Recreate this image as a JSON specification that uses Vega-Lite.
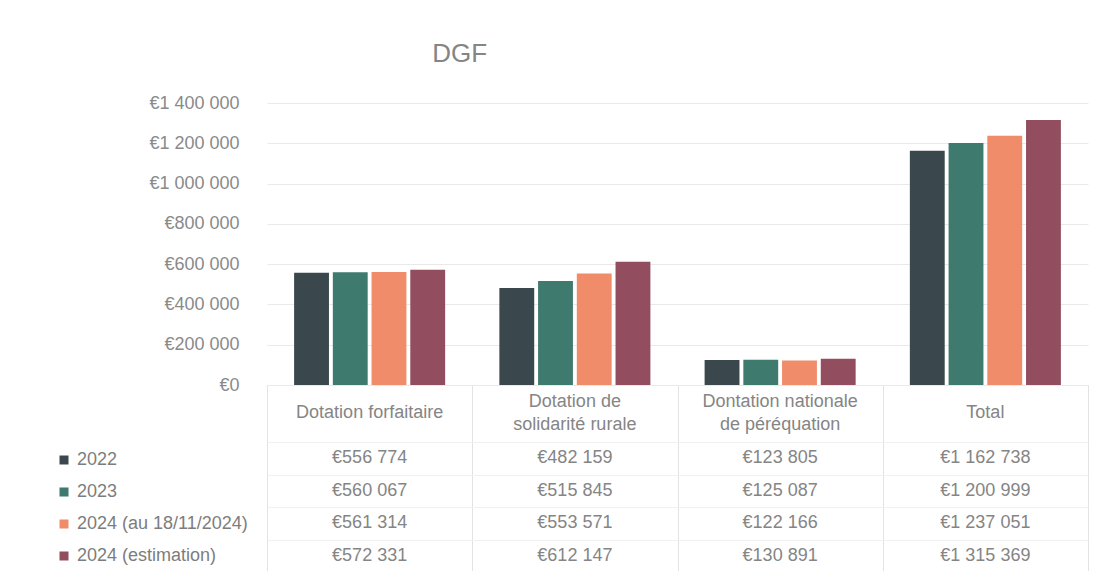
{
  "$schema": "https://vega.github.io/schema/vega-lite/v6.json",
  "padding": {"left": 55, "top": 41, "right": 0, "bottom": 0},
  "background": "white",
  "title": {
    "text": "DGF",
    "fontSize": 26,
    "font": "Liberation Sans",
    "fontWeight": "normal",
    "color": "#858585",
    "anchor": "middle",
    "dx": -112,
    "offset": 27
  },
  "datasets": {
    "dgf": [
      {"categorie": "Dotation forfaitaire", "serie": "2022", "montant": 556774},
      {"categorie": "Dotation forfaitaire", "serie": "2023", "montant": 560067},
      {"categorie": "Dotation forfaitaire", "serie": "2024 (au 18/11/2024)", "montant": 561314},
      {"categorie": "Dotation forfaitaire", "serie": "2024 (estimation)", "montant": 572331},
      {"categorie": "Dotation de solidarité rurale", "serie": "2022", "montant": 482159},
      {"categorie": "Dotation de solidarité rurale", "serie": "2023", "montant": 515845},
      {"categorie": "Dotation de solidarité rurale", "serie": "2024 (au 18/11/2024)", "montant": 553571},
      {"categorie": "Dotation de solidarité rurale", "serie": "2024 (estimation)", "montant": 612147},
      {"categorie": "Dontation nationale de péréquation", "serie": "2022", "montant": 123805},
      {"categorie": "Dontation nationale de péréquation", "serie": "2023", "montant": 125087},
      {"categorie": "Dontation nationale de péréquation", "serie": "2024 (au 18/11/2024)", "montant": 122166},
      {"categorie": "Dontation nationale de péréquation", "serie": "2024 (estimation)", "montant": 130891},
      {"categorie": "Total", "serie": "2022", "montant": 1162738},
      {"categorie": "Total", "serie": "2023", "montant": 1200999},
      {"categorie": "Total", "serie": "2024 (au 18/11/2024)", "montant": 1237051},
      {"categorie": "Total", "serie": "2024 (estimation)", "montant": 1315369}
    ],
    "entetes": [
      {"categorie": "Dotation forfaitaire", "entete": "Dotation forfaitaire"},
      {"categorie": "Dotation de solidarité rurale", "entete": "Dotation de|solidarité rurale"},
      {"categorie": "Dontation nationale de péréquation", "entete": "Dontation nationale|de péréquation"},
      {"categorie": "Total", "entete": "Total"}
    ]
  },
  "config": {
    "locale": {
      "number": {"decimal": ",", "thousands": " ", "grouping": [3], "currency": ["€", ""]}
    },
    "view": {"stroke": null},
    "font": "Liberation Sans",
    "text": {"font": "Liberation Sans"}
  },
  "vconcat": [
    {
      "width": 821,
      "height": 282,
      "layer": [
        {
          "data": {"name": "dgf"},
          "mark": {"type": "bar"},
          "encoding": {
            "x": {
              "field": "categorie",
              "type": "nominal",
              "sort": ["Dotation forfaitaire", "Dotation de solidarité rurale", "Dontation nationale de péréquation", "Total"],
              "scale": {"paddingInner": 0, "paddingOuter": 0},
              "axis": {
                "title": null,
                "labels": false,
                "ticks": true,
                "tickBand": "extent",
                "tickSize": 57,
                "tickColor": "#e3e3e3",
                "domain": false,
                "grid": false
              }
            },
            "xOffset": {
              "field": "serie",
              "type": "nominal",
              "sort": ["2022", "2023", "2024 (au 18/11/2024)", "2024 (estimation)"],
              "scale": {"paddingInner": 0.1, "paddingOuter": 0.7}
            },
            "y": {
              "field": "montant",
              "type": "quantitative",
              "scale": {"domain": [0, 1400000], "nice": false},
              "axis": {
                "title": null,
                "format": "$,.0f",
                "values": [0, 200000, 400000, 600000, 800000, 1000000, 1200000, 1400000],
                "labelPadding": 28,
                "labelFontSize": 18,
                "labelFont": "Liberation Sans",
                "labelColor": "#8a8a8a",
                "ticks": false,
                "domain": false,
                "grid": true,
                "gridColor": "#e9e9e9"
              }
            },
            "color": {
              "field": "serie",
              "type": "nominal",
              "sort": ["2022", "2023", "2024 (au 18/11/2024)", "2024 (estimation)"],
              "scale": {
                "domain": ["2022", "2023", "2024 (au 18/11/2024)", "2024 (estimation)"],
                "range": ["#3a484d", "#3e7a6e", "#f08c6a", "#924e5e"]
              },
              "legend": {
                "title": null,
                "orient": "none",
                "legendX": -212,
                "legendY": 348,
                "symbolType": "square",
                "symbolSize": 81,
                "symbolStrokeWidth": 0,
                "labelFontSize": 18,
                "labelFont": "Liberation Sans",
                "labelColor": "#7d7d7d",
                "labelOffset": 4,
                "rowPadding": 14,
                "padding": 0,
                "labelLimit": 400
              }
            }
          }
        },
        {
          "data": {"name": "entetes"},
          "transform": [{"filter": "indexof(datum.entete, '|') < 0"}],
          "mark": {"type": "text", "baseline": "alphabetic", "dy": 33, "fontSize": 18, "color": "#858585", "font": "Liberation Sans"},
          "encoding": {
            "x": {
              "field": "categorie",
              "type": "nominal",
              "sort": ["Dotation forfaitaire", "Dotation de solidarité rurale", "Dontation nationale de péréquation", "Total"]
            },
            "y": {"datum": 0, "type": "quantitative"},
            "text": {"field": "entete", "type": "nominal"}
          }
        },
        {
          "data": {"name": "entetes"},
          "transform": [{"filter": "indexof(datum.entete, '|') >= 0"}],
          "mark": {"type": "text", "baseline": "alphabetic", "dy": 22, "lineBreak": "|", "lineHeight": 22.5, "fontSize": 18, "color": "#858585", "font": "Liberation Sans"},
          "encoding": {
            "x": {
              "field": "categorie",
              "type": "nominal",
              "sort": ["Dotation forfaitaire", "Dotation de solidarité rurale", "Dontation nationale de péréquation", "Total"]
            },
            "y": {"datum": 0, "type": "quantitative"},
            "text": {"field": "entete", "type": "nominal"}
          }
        }
      ]
    },
    {
      "width": 821,
      "height": 130,
      "data": {"name": "dgf"},
      "mark": {"type": "text", "fontSize": 18, "color": "#858585", "font": "Liberation Sans"},
      "encoding": {
        "x": {
          "field": "categorie",
          "type": "nominal",
          "sort": ["Dotation forfaitaire", "Dotation de solidarité rurale", "Dontation nationale de péréquation", "Total"],
          "scale": {"paddingInner": 0, "paddingOuter": 0},
          "axis": {
            "title": null,
            "labels": false,
            "ticks": false,
            "domain": false,
            "grid": true,
            "tickBand": "extent",
            "gridColor": "#e3e3e3"
          }
        },
        "y": {
          "field": "serie",
          "type": "nominal",
          "sort": ["2022", "2023", "2024 (au 18/11/2024)", "2024 (estimation)"],
          "scale": {"paddingInner": 0, "paddingOuter": 0},
          "axis": {
            "title": null,
            "labels": false,
            "ticks": false,
            "domain": false,
            "grid": true,
            "tickBand": "extent",
            "gridColor": "#f1f1f1"
          }
        },
        "text": {"field": "montant", "type": "quantitative", "format": "$,.0f"}
      }
    }
  ],
  "spacing": 57,
  "bounds": "flush",
  "resolve": {"scale": {"x": "independent", "xOffset": "independent"}}
}
